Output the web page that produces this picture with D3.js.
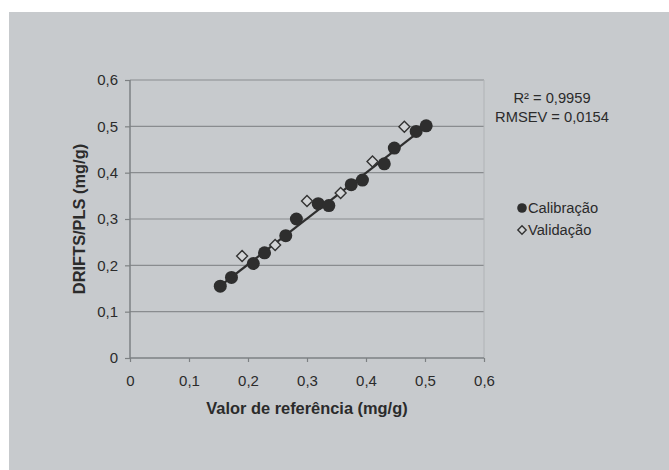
<!DOCTYPE html>
<html>
<head>
<meta charset="utf-8">
<script src="https://cdn.jsdelivr.net/npm/d3@7"></script>
<style>
  body { margin: 0; background: #fff; }
  svg text { font-family: "Liberation Sans", Arial, sans-serif; fill: #2b2b2b; }
  .tick text { font-size: 15px; }
  .axis-title { font-size: 16.4px; font-weight: bold; }
</style>
</head>
<body>
<div class="chart"></div>
<script>
// reference values (x) and predicted values (y)
var calX = [0.153, 0.172, 0.209, 0.228, 0.264, 0.282, 0.319, 0.337, 0.375, 0.394, 0.431, 0.448, 0.485, 0.502];
var calY = [0.155, 0.174, 0.204, 0.227, 0.264, 0.300, 0.333, 0.329, 0.374, 0.384, 0.419, 0.453, 0.489, 0.501];
var valX = [0.190, 0.246, 0.300, 0.357, 0.411, 0.465];
var valY = [0.220, 0.244, 0.339, 0.356, 0.424, 0.499];
var ticks = [0, 0.1, 0.2, 0.3, 0.4, 0.5, 0.6];
var statLines = ["R² = 0,9959", "RMSEV = 0,0154"];
var legendLabels = ["Calibração", "Validação"];

var svgWidth = 669;
var svgHeight = 470;

var margin = { top: 80, right: 185, bottom: 112, left: 130 };
var chartWidth = svgWidth - margin.left - margin.right;   // 354
var chartHeight = svgHeight - margin.top - margin.bottom; // 278

var svg = d3.select(".chart")
  .append("svg")
  .attr("width", svgWidth)
  .attr("height", svgHeight);

// gray panel
svg.append("rect")
  .attr("x", 9)
  .attr("y", 12)
  .attr("width", svgWidth - 9)
  .attr("height", svgHeight - 12)
  .attr("fill", "#c7cacd");

var chartGroup = svg.append("g")
  .attr("transform", `translate(${margin.left}, ${margin.top})`);

var xScale = d3.scaleLinear().domain([0, 0.6]).range([0, chartWidth]);
var yScale = d3.scaleLinear().domain([0, 0.6]).range([chartHeight, 0]);

var fmt = d3.formatLocale({ decimal: ",", thousands: ".", grouping: [3], currency: ["", ""] }).format("~g");

// gridlines
chartGroup.selectAll(".grid")
  .data(ticks.slice(1))
  .enter()
  .append("line")
  .attr("x1", 0)
  .attr("x2", chartWidth)
  .attr("y1", d => yScale(d))
  .attr("y2", d => yScale(d))
  .attr("stroke", "#898c8f")
  .attr("stroke-width", 1.2);

// right border of plot area
chartGroup.append("line")
  .attr("x1", chartWidth).attr("x2", chartWidth)
  .attr("y1", 0).attr("y2", chartHeight)
  .attr("stroke", "#b0b3b6");

var bottomAxis = d3.axisBottom(xScale).tickValues(ticks).tickFormat(fmt).tickSize(4).tickPadding(13);
var leftAxis = d3.axisLeft(yScale).tickValues(ticks).tickFormat(fmt).tickSize(5).tickPadding(7);

var xAxis = chartGroup.append("g")
  .attr("transform", `translate(0, ${chartHeight})`)
  .call(bottomAxis);

var yAxis = chartGroup.append("g")
  .call(leftAxis);

[xAxis, yAxis].forEach(function(ax) {
  ax.select(".domain").attr("stroke", "#7d8083").attr("stroke-width", 1.5);
  ax.selectAll(".tick line").attr("stroke", "#7d8083").attr("stroke-width", 1.2);
  ax.selectAll(".tick text").attr("fill", "#2b2b2b");
});
xAxis.select(".domain").attr("d", `M0,0H${chartWidth}`);
yAxis.select(".domain").attr("d", `M0,0V${chartHeight}`);

// trend line fitted on calibration set
var mx = d3.mean(calX), my = d3.mean(calY);
var slope = d3.sum(calX, (x, i) => (x - mx) * (calY[i] - my)) / d3.sum(calX, x => (x - mx) * (x - mx));
var intercept = my - slope * mx;
var x0 = d3.min(calX), x1 = d3.max(calX);

chartGroup.append("line")
  .attr("x1", xScale(x0))
  .attr("y1", yScale(slope * x0 + intercept))
  .attr("x2", xScale(x1))
  .attr("y2", yScale(slope * x1 + intercept))
  .attr("stroke", "#2f2f2f")
  .attr("stroke-width", 2.2);

// calibration points
chartGroup.selectAll(".cal")
  .data(calX)
  .enter()
  .append("circle")
  .attr("cx", d => xScale(d))
  .attr("cy", (d, i) => yScale(calY[i]))
  .attr("r", 6.5)
  .attr("fill", "#2e2e2e");

// validation points
var diamond = d3.symbol().type(d3.symbolDiamond2).size(76);
chartGroup.selectAll(".val")
  .data(valX)
  .enter()
  .append("path")
  .attr("d", diamond)
  .attr("transform", (d, i) => `translate(${xScale(d)}, ${yScale(valY[i])})`)
  .attr("fill", "#d2d4d6")
  .attr("stroke", "#333")
  .attr("stroke-width", 1.4);

// axis titles
chartGroup.append("text")
  .attr("class", "axis-title")
  .attr("x", chartWidth / 2)
  .attr("y", chartHeight + 56)
  .attr("text-anchor", "middle")
  .text("Valor de referência (mg/g)");

chartGroup.append("text")
  .attr("class", "axis-title")
  .attr("transform", "rotate(-90)")
  .attr("x", -chartHeight / 2)
  .attr("y", -45)
  .attr("text-anchor", "middle")
  .text("DRIFTS/PLS (mg/g)");

// stats
svg.selectAll(".stat")
  .data(statLines)
  .enter()
  .append("text")
  .attr("x", 552)
  .attr("y", (d, i) => 103 + i * 19)
  .attr("text-anchor", "middle")
  .attr("font-size", 14.7)
  .text(d => d);

// legend
var legend = svg.append("g").attr("transform", "translate(522, 208)");
legend.append("circle").attr("cx", 0).attr("cy", 0).attr("r", 4.8).attr("fill", "#2e2e2e");
legend.append("path")
  .attr("d", d3.symbol().type(d3.symbolDiamond2).size(44))
  .attr("transform", "translate(0, 22)")
  .attr("fill", "#d2d4d6")
  .attr("stroke", "#333")
  .attr("stroke-width", 1.4);
legend.selectAll(".lbl")
  .data(legendLabels)
  .enter()
  .append("text")
  .attr("x", 6)
  .attr("y", (d, i) => 5 + i * 22)
  .attr("font-size", 14.7)
  .text(d => d);
</script>
</body>
</html>
